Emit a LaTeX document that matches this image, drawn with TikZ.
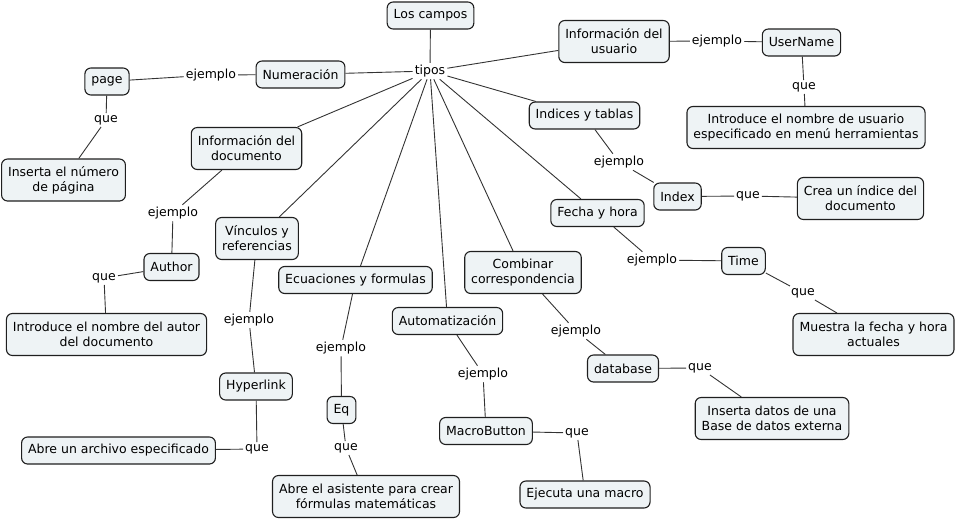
\documentclass[tikz,border=0pt]{standalone}
\usepackage{fontspec}
\setmainfont{DejaVu Sans}
\begin{document}
\begin{tikzpicture}[x=1pt,y=-1pt,
  box/.style={draw=black!88,line width=1.1pt,fill=boxfill,rounded corners=6pt,
    align=center,inner xsep=6.5pt,inner ysep=3pt,minimum height=27pt,
    font=\fontsize{12.5}{15}\selectfont},
  two/.style={minimum height=42pt},
  lab/.style={inner sep=2pt,font=\fontsize{12.5}{15}\selectfont},
  conn/.style={draw=black!80,line width=0.9pt}]
\definecolor{boxfill}{HTML}{EEF3F5}
\useasboundingbox (0,0) rectangle (955,520);

% hub
\node[box] (campos) at (430.5,15.5) {Los campos};
\node[lab] (tipos) at (430,71) {tipos};

% types
\node[box,two] (infusu) at (614,41.5) {Información del\\usuario};
\node[box] (numer) at (300.5,74.5) {Numeración};
\node[box,two] (infdoc) at (246.5,148.5) {Información del\\documento};
\node[box,two] (vinc) at (257,238.5) {Vínculos y\\referencias};
\node[box] (ecua) at (355.5,280) {Ecuaciones y formulas};
\node[box] (auto) at (447.5,321) {Automatización};
\node[box,two] (comb) at (523,272.5) {Combinar\\correspondencia};
\node[box] (indic) at (584.5,115.5) {Indices y tablas};
\node[box] (fecha) at (597.5,213) {Fecha y hora};

% examples and descriptions
\node[lab] (e1) at (717,41) {ejemplo};
\node[box] (user) at (801.5,42.5) {UserName};
\node[lab] (q1) at (804,87) {que};
\node[box,two] (d1) at (806,127.5) {Introduce el nombre de usuario\\especificado en menú herramientas};

\node[lab] (e2) at (211,75) {ejemplo};
\node[box] (page) at (107,81.5) {page};
\node[lab] (q2) at (106,120) {que};
\node[box,two] (d2) at (63.5,180) {Inserta el número\\de página};

\node[lab] (e3) at (173,213) {ejemplo};
\node[box] (author) at (171.5,267) {Author};
\node[lab] (q3) at (104,278) {que};
\node[box,two] (d3) at (106.5,334.5) {Introduce el nombre del autor\\del documento};

\node[lab] (e4) at (249,320) {ejemplo};
\node[box] (hyper) at (256,386.5) {Hyperlink};
\node[lab] (q4) at (257,449) {que};
\node[box] (d4) at (118.5,450.5) {Abre un archivo especificado};

\node[lab] (e5) at (341,348) {ejemplo};
\node[box] (eq) at (341.5,410) {Eq};
\node[lab] (q5) at (346,448) {que};
\node[box,two] (d5) at (366,496.5) {Abre el asistente para crear\\fórmulas matemáticas};

\node[lab] (e6) at (483,374) {ejemplo};
\node[box] (macro) at (486,431) {MacroButton};
\node[lab] (q6) at (577,433) {que};
\node[box] (d6) at (585,494.5) {Ejecuta una macro};

\node[lab] (e7) at (576,331) {ejemplo};
\node[box] (datab) at (623,368.5) {database};
\node[lab] (q7) at (700,368) {que};
\node[box,two] (d7) at (772,418.5) {Inserta datos de una\\Base de datos externa};

\node[lab] (e8) at (619,162) {ejemplo};
\node[box] (index) at (677.5,196.5) {Index};
\node[lab] (q8) at (748,196) {que};
\node[box,two] (d8) at (860.5,198.5) {Crea un índice del\\documento};

\node[lab] (e9) at (652,260) {ejemplo};
\node[box] (time) at (743.5,261) {Time};
\node[lab] (q9) at (803,293) {que};
\node[box,two] (d9) at (873.5,334.5) {Muestra la fecha y hora\\actuales};

% connectors
\path[conn] (campos) -- (tipos);
\foreach \t in {infusu,numer,infdoc,vinc,ecua,auto,comb,indic,fecha}
  \path[conn] (tipos) -- (\t);
\path[conn] (infusu) -- (e1) -- (user);
\path[conn] (user) -- (q1) -- (d1);
\path[conn] (numer) -- (e2) -- (page);
\path[conn] (page) -- (q2) -- (d2);
\path[conn] (infdoc) -- (e3) -- (author);
\path[conn] (author) -- (q3) -- (d3);
\path[conn] (vinc) -- (e4) -- (hyper);
\path[conn] (hyper) -- (q4) -- (d4);
\path[conn] (ecua) -- (e5) -- (eq);
\path[conn] (eq) -- (q5) -- (d5);
\path[conn] (auto) -- (e6) -- (macro);
\path[conn] (macro) -- (q6) -- (d6);
\path[conn] (comb) -- (e7) -- (datab);
\path[conn] (datab) -- (q7) -- (d7);
\path[conn] (indic) -- (e8) -- (index);
\path[conn] (index) -- (q8) -- (d8);
\path[conn] (fecha) -- (e9) -- (time);
\path[conn] (time) -- (q9) -- (d9);
\end{tikzpicture}
\end{document}
